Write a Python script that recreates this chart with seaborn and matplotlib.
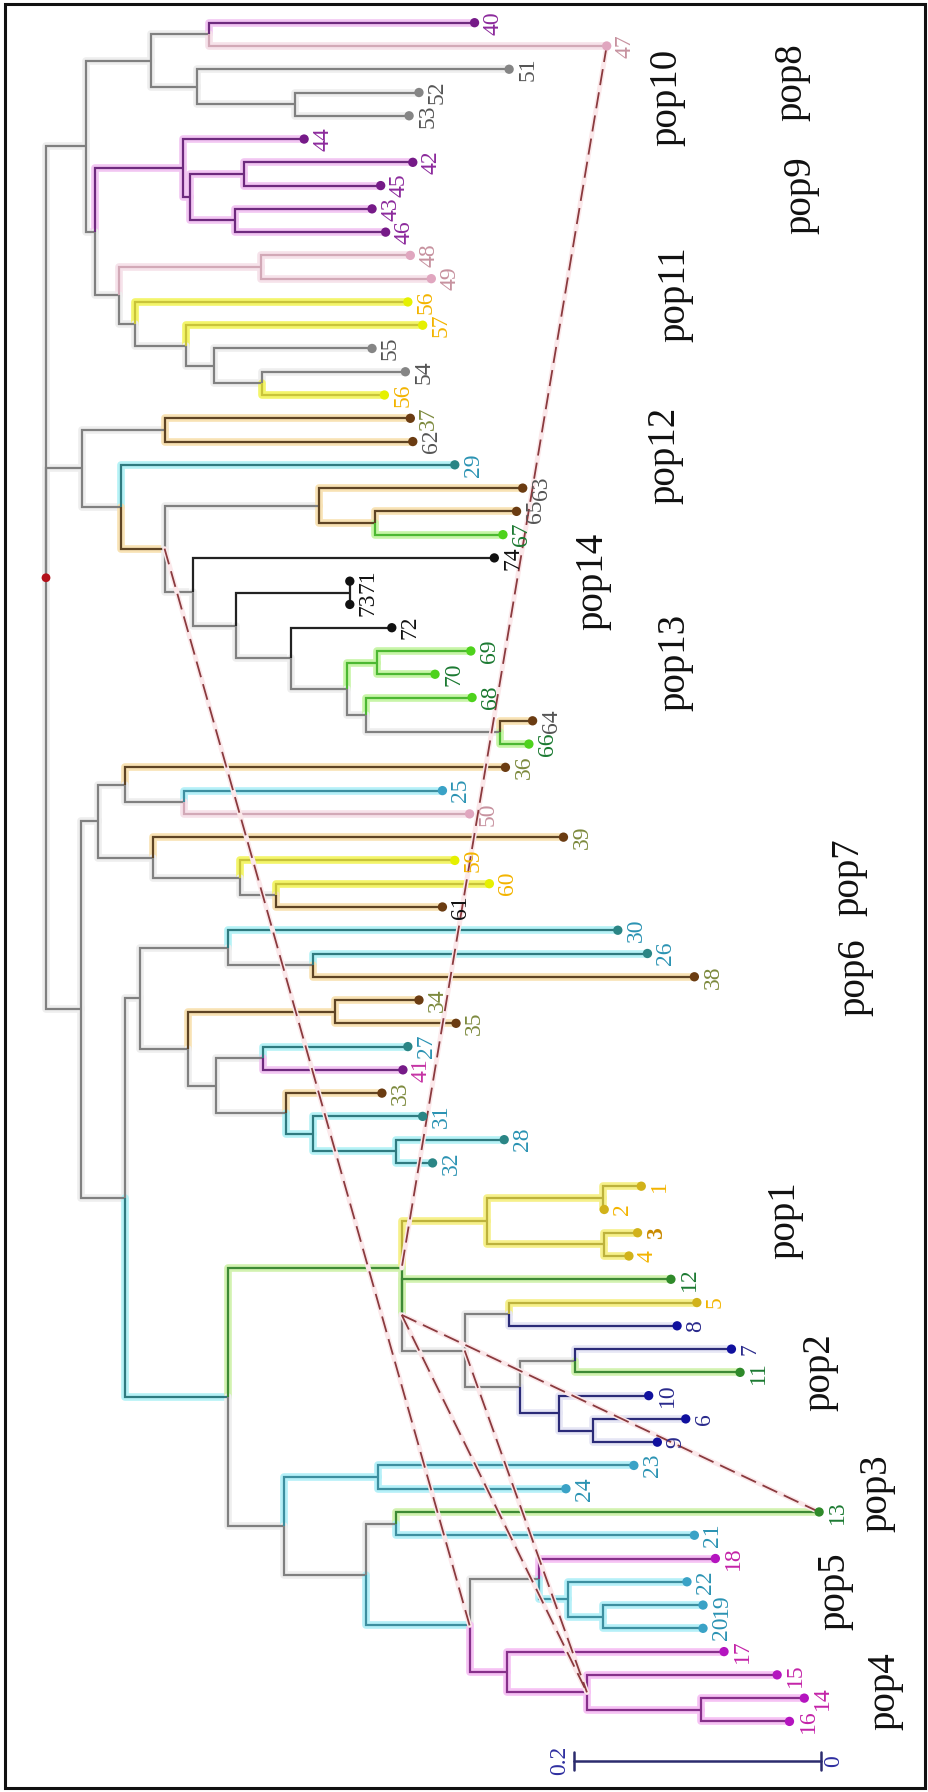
import matplotlib
matplotlib.use("Agg")
import matplotlib.pyplot as plt
import seaborn as sns
import numpy as np
import pandas as pd
from matplotlib.collections import LineCollection

sns.set_theme(style="white")
plt.rcParams["font.family"] = ["Liberation Serif", "DejaVu Serif"]

# ---------------- data ----------------
# tips, top to bottom (tip order index = position in list)
tip_ids = ['40','47','51','52','53','44','42','45','43','46','48','49','56a','57','55',
           '54','56b','37','62','29','63','65','67','74','71','73','72','69','70','68',
           '64','66','36','25','50','39','59','60','61','30','26','38','34','35','27',
           '41','33','31','28','32','1','2','3','4','12','5','8','7','11','10',
           '6','9','23','24','13','21','18','22','19','20','17','15','14','16']
tip_labels = [t.rstrip('ab') for t in tip_ids]
# root-to-tip distance (substitutions per site)
tip_depth = [0.347,0.454,0.375,0.302,0.294,0.209,0.297,0.271,0.264,0.275,0.295,0.312,0.293,0.305,0.264,
             0.291,0.274,0.295,0.297,0.331,0.386,0.381,0.370,0.363,0.246,0.246,0.280,0.344,0.315,0.345,
             0.394,0.391,0.372,0.321,0.343,0.419,0.331,0.359,0.321,0.463,0.487,0.525,0.302,0.332,0.293,
             0.289,0.272,0.305,0.371,0.313,0.482,0.452,0.479,0.472,0.506,0.527,0.511,0.555,0.562,0.488,
             0.518,0.495,0.476,0.421,0.626,0.525,0.542,0.519,0.532,0.532,0.549,0.592,0.614,0.602]
tip_group = ['purple','pink','gray','gray','gray','purple','purple','purple','purple','purple',
             'pink','pink','yellow','yellow','gray','gray','yellow','brown','brown','teal',
             'brown','brown','green','black','black','black','black','green','green','green',
             'brown','green','brown','cyan','pink','brown','yellow','yellow','brown','teal',
             'teal','brown','brown','brown','teal','purple','brown','teal','teal','teal',
             'gold','gold','gold','gold','dkgreen','gold','navy','navy','dkgreen','navy',
             'navy','navy','cyan','cyan','dkgreen','cyan','magenta','cyan','cyan','cyan',
             'magenta','magenta','magenta','magenta']
tip_label_class = ['purple','pink','gray','gray','gray','purple','purple','purple','purple','purple',
                   'pink','pink','gold','gold','gray','gray','gold','olive','gray','teal',
                   'gray','gray','green','black','black','black','black','green','green','green',
                   'gray','green','olive','teal','pink','olive','gold','gold','black','teal',
                   'teal','olive','olive','olive','teal','rose','olive','teal','teal','teal',
                   'gold','gold','orange','gold','green','gold','navy','navy','green','navy',
                   'navy','navy','teal','teal','green','teal','magenta','teal','teal','teal',
                   'magenta','magenta','magenta','magenta']

# internal nodes: id, children, depth, colour group of the branch leading to it
internal_ids = ['root','C','B','A','G1','G2','F','E','D','D1','D2','H','H1','I','K','J','J1',
                'M','M1','N','O','P','Q','R','S','T','U','V','W','X','Y',
                'L','Z2','Z1','Z1a','Z3','Z4','Z5','AG','AC','AB','AB1','AE','AE1','AD','AD1',
                'AD2','AD3','AD4','AH','AI','P1','P1a','P1b','AK','AJ','AJ1','AJ2','AJ3','AJ4',
                'AJ5','AL','AL1','AL2','AL3','AL4','AL5','AL7','AL8','AL6','AL9','AL10']
internal_children = [['C','M','L'],['B','F'],['A','G1'],['40','47'],['51','G2'],['52','53'],
                     ['E','H'],['44','D'],['D1','D2'],['42','45'],['43','46'],['H1','I'],['48','49'],
                     ['56a','K'],['57','J'],['55','J1'],['54','56b'],
                     ['M1','N'],['37','62'],['29','O'],['P','R'],['63','Q'],['65','67'],['74','S'],
                     ['T','U'],['71','73'],['72','V'],['W','X'],['69','70'],['68','Y'],['64','66'],
                     ['Z2','AG'],['Z1','Z3'],['36','Z1a'],['25','50'],['39','Z4'],['59','Z5'],['60','61'],
                     ['AC','AH'],['AB','AE'],['30','AB1'],['26','38'],['AE1','AD'],['34','35'],
                     ['AD1','AD2'],['27','41'],['33','AD3'],['31','AD4'],['28','32'],['AI','AL'],
                     ['P1','AK'],['P1a','P1b'],['1','2'],['3','4'],['12','AJ'],['AJ1','AJ2'],['5','8'],
                     ['AJ3','AJ4'],['7','11'],['10','AJ5'],['6','9'],['AL1','AL2'],['23','24'],
                     ['AL3','AL4'],['13','21'],['AL5','AL6'],['18','AL7'],['22','AL8'],['19','20'],
                     ['17','AL9'],['15','AL10'],['14','16']]
internal_depth = [0.000,0.032,0.085,0.132,0.122,0.202,0.040,0.111,0.117,0.160,0.153,0.059,0.174,
                  0.072,0.113,0.136,0.175,0.029,0.096,0.061,0.096,0.221,0.266,0.119,0.154,0.246,
                  0.198,0.244,0.268,0.259,0.368,0.028,0.042,0.064,0.112,0.087,0.157,0.186,0.064,
                  0.076,0.147,0.216,0.115,0.234,0.138,0.176,0.194,0.216,0.283,0.147,0.288,0.357,
                  0.451,0.452,0.288,0.339,0.375,0.384,0.428,0.415,0.443,0.193,0.269,0.259,0.283,
                  0.343,0.399,0.423,0.451,0.373,0.438,0.530]
internal_group = ['gray','gray','gray','gray','gray','gray','gray','purple','purple','purple','purple',
                  'gray','pink','gray','gray','gray','gray','gray','gray','gray','brown','gray','brown',
                  'gray','gray','black','gray','gray','green','gray','gray','gray','gray','gray','gray',
                  'gray','gray','gray','gray','gray','gray','gray','gray','brown','gray','gray','gray',
                  'teal','teal','teal','dkgreen','gold','gold','gold','dkgreen','gray','gray','gray',
                  'gray','navy','navy','gray','cyan','gray','gray','cyan','gray','cyan','cyan',
                  'magenta','magenta','magenta']

# reticulation / admixture links (from node, to node)
link_from = ['47', 'O', 'AK', 'AK', 'AJ']
link_to = ['AI', 'AL4', '13', 'AL9', 'AL9']

# population labels (position in tree coordinates: depth, tip index)
pop_names = ['pop10','pop8','pop9','pop11','pop12','pop14','pop13','pop7','pop6',
             'pop1','pop2','pop3','pop5','pop4']
pop_depth = [0.503,0.604,0.611,0.509,0.501,0.443,0.509,0.650,0.655,0.598,0.627,0.673,0.639,0.679]
pop_index = [3.2,2.55,7.4,11.66,18.6,24.0,27.5,36.7,41.0,51.45,58.0,63.2,67.4,71.7]

scale_len = 0.2

# ---------------- styles ----------------
line_col = {'gray':'#808080','purple':'#6e2a7e','pink':'#d2a9b7','yellow':'#c9c43a','brown':'#5e4424',
            'teal':'#2f7b80','cyan':'#3d8fa0','green':'#4cb832','dkgreen':'#3d8a35','black':'#222222',
            'gold':'#bdb23c','navy':'#2b2b78','magenta':'#86308a'}
halo_col = {'gray':'#eeeeee','purple':'#f2c6f2','pink':'#f6e2ea','yellow':'#f3f56a','brown':'#f8e2b4',
            'teal':'#b5f2f6','cyan':'#b5f0f8','green':'#c8f5a8','dkgreen':'#d2f2b0','black':'#ffffff',
            'gold':'#f6f08a','navy':'#e6e6f5','magenta':'#f6c2f4'}
dot_col = {'gray':'#858585','purple':'#761a88','pink':'#e0a6bf','yellow':'#e5f000','brown':'#6b3c12',
           'teal':'#2a8585','cyan':'#3aa2c6','green':'#4ed21c','dkgreen':'#2f8a2a','black':'#111111',
           'gold':'#d1b21a','navy':'#10109e','magenta':'#b414bf'}
lab_col = {'purple':'#8c2a9c','pink':'#c7929f','gray':'#555555','gold':'#f3b400','olive':'#7d8a3e',
           'teal':'#2b93b3','rose':'#c534a4','green':'#1c7a32','black':'#111111','orange':'#c98a00',
           'navy':'#2a2a8c','magenta':'#c424a8'}

# ---------------- build tree geometry ----------------
depth = dict(zip(tip_ids, tip_depth))
depth.update(dict(zip(internal_ids, internal_depth)))
group = dict(zip(tip_ids, tip_group))
group.update(dict(zip(internal_ids, internal_group)))
children = dict(zip(internal_ids, internal_children))
ypos = {t: i for i, t in enumerate(tip_ids)}
parent = {c: p for p, cs in children.items() for c in cs}

def get_y(n):
    if n in ypos:
        return ypos[n]
    cs = children[n]
    ys = [get_y(c) for c in cs]
    ypos[n] = (ys[0] + ys[-1]) / 2.0
    return ypos[n]

get_y('root')

# pixel mapping of the reference: root at x=46px, 0.2 units = 247px; tip i at 22.7+23.27*i px
W, H = 929, 1792
px_per_unit = 1235.0
x0 = 46.0
y_first, y_step = 22.7, 23.27

fig = plt.figure(figsize=(W / 100, H / 100), dpi=100)
ax = fig.add_axes([0, 0, 1, 1])
ax.set_xlim(-x0 / px_per_unit, (W - x0) / px_per_unit)
ax.set_ylim((H - y_first) / y_step, -y_first / y_step)
ax.axis('off')

segs, cols, hcols = [], [], []
for n, p in parent.items():
    segs.append([(depth[p], ypos[p]), (depth[p], ypos[n]), (depth[n], ypos[n])])
    cols.append(line_col[group[n]])
    hcols.append(halo_col[group[n]])

ax.add_collection(LineCollection(segs, colors=hcols, linewidths=5.5, capstyle='round',
                                 joinstyle='round', zorder=1))
ax.add_collection(LineCollection(segs, colors=cols, linewidths=1.6, capstyle='butt',
                                 joinstyle='miter', zorder=2))

# links
for a, b in zip(link_from, link_to):
    ax.plot([depth[a], depth[b]], [ypos[a], ypos[b]], color='#fbe8ea', lw=3.5, zorder=3,
            solid_capstyle='round')
    ax.plot([depth[a], depth[b]], [ypos[a], ypos[b]], color='#8a3a3e', lw=1.3, zorder=4,
            dashes=(9, 4))

# tip dots
tips_df = pd.DataFrame({'id': tip_ids, 'depth': tip_depth,
                        'idx': [ypos[t] for t in tip_ids], 'group': tip_group})
sns.scatterplot(data=tips_df, x='depth', y='idx', hue='group', palette=dot_col, s=45,
                edgecolor='none', legend=False, ax=ax, zorder=5)
# root marker
ax.scatter([depth['root']], [ypos['root']], s=40, color='#b3101a', zorder=6, edgecolor='none')

# tip labels
off = 8 / px_per_unit
for t, lab, cl in zip(tip_ids, tip_labels, tip_label_class):
    ax.text(depth[t] + off, ypos[t], lab, rotation=90, ha='left', va='center',
            fontsize=17, color=lab_col[cl], zorder=6,
            fontweight='bold' if cl == 'orange' else 'normal')

# population labels
for name, d, i in zip(pop_names, pop_depth, pop_index):
    ax.text(d, i, name, rotation=90, ha='center', va='center', fontsize=28, color='#111111')

# scale bar (0.2 ... 0)
sb_y = (1760.7 - y_first) / y_step
sb_x1 = (820.5 - x0) / px_per_unit
sb_x0 = sb_x1 - scale_len
ax.plot([sb_x0, sb_x1], [sb_y, sb_y], color='#2c2c6e', lw=1.8)
tk = 0.38
ax.plot([sb_x0, sb_x0], [sb_y - tk, sb_y + tk], color='#2c2c6e', lw=1.8)
ax.plot([sb_x1, sb_x1], [sb_y - tk, sb_y + tk], color='#2c2c6e', lw=1.8)
ax.text(sb_x0 - 3 / px_per_unit, sb_y, f"{scale_len:g}", rotation=90, ha='right', va='center',
        fontsize=17, color='#2e2ea0')
ax.text(sb_x1 + 3 / px_per_unit, sb_y, "0", rotation=90, ha='left', va='center',
        fontsize=17, color='#2e2ea0')

# frame
fig.add_artist(plt.Rectangle((5 / W, 4 / H), 920 / W, 1784 / H, transform=fig.transFigure,
                             fill=False, lw=2.2, edgecolor='#111111'))

fig.savefig('out.png', dpi=100)
